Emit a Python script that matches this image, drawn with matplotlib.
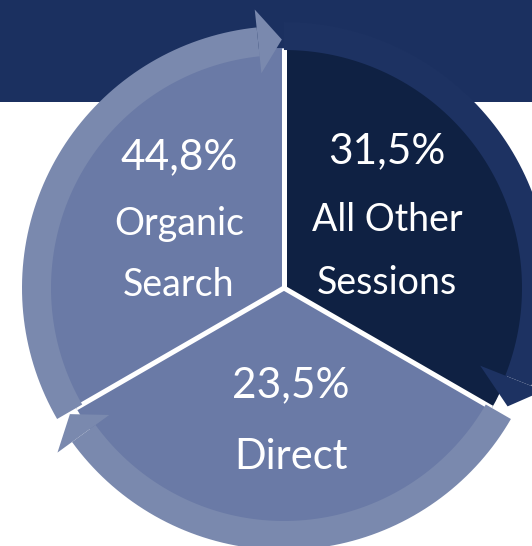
import numpy as np
import matplotlib
matplotlib.use("Agg")
import matplotlib.pyplot as plt
from matplotlib.patches import Polygon, Rectangle

# data
channels = ["Organic\nSearch", "All Other\nSessions", "Direct"]
shares = [44.8, 31.5, 23.5]
segment_weights = [1, 1, 1]   # the cycle graphic uses equal segments

W, H = 532, 546
cx, cy = 284, H - 288
R = 240

header_col = "#1b3060"
slice_cols = ["#6a7aa6", "#0f2143", "#6a7aa6"]
ring_cols = ["#7a89ae", "#1d3262", "#7a89ae"]


def arc_arrow(ax, a_start, a_tip, r_in, r_out, h_in, h_out, head_deg, color):
    """clockwise band from a_start to a_tip (degrees), arrow head at the end"""
    a_base = a_tip + head_deg
    t = np.radians(np.linspace(a_start, a_base, 80))
    outer = np.c_[cx + r_out*np.cos(t), cy + r_out*np.sin(t)]
    inner = np.c_[cx + r_in*np.cos(t), cy + r_in*np.sin(t)][::-1]
    band = Polygon(np.vstack([outer, inner]), closed=True, fc=color, ec="none", zorder=3)
    ax.add_patch(band)
    tb, tt = np.radians(a_base), np.radians(a_tip)
    rm = (r_in + r_out) / 2 + 1
    head = [(cx + h_out*np.cos(tb), cy + h_out*np.sin(tb)),
            (cx + rm*np.cos(tt), cy + rm*np.sin(tt)),
            (cx + h_in*np.cos(tb), cy + h_in*np.sin(tb))]
    return Polygon(head, closed=True, fc=color, ec="none", zorder=4)


fig = plt.figure(figsize=(W/100, H/100), dpi=100)
ax = fig.add_axes([0, 0, 1, 1])

ax.add_patch(Rectangle((0, H - 102), W, 102, fc=header_col, ec="none", zorder=0))

wedges, _ = ax.pie(segment_weights, colors=slice_cols, startangle=210, counterclock=False,
                   center=(cx, cy), radius=R, wedgeprops=dict(linewidth=0))
for w in wedges:
    w.set_zorder(1)

# white separators between segments
bounds = 210 - 360*np.cumsum([0] + segment_weights[:-1]) / sum(segment_weights)
for a in bounds:
    t = np.radians(a)
    ax.plot([cx, cx + R*np.cos(t)], [cy, cy + R*np.sin(t)], color="white", lw=3.6,
            solid_capstyle="butt", zorder=2)

# circular arrows around each segment
heads = []
for i, a0 in enumerate(bounds):
    span = 360*segment_weights[i]/sum(segment_weights)
    tip = a0 - span + 0.5
    if i == 1:
        heads.append(arc_arrow(ax, a0, tip + 1.6, 238, 266, 211, 279, 6.3, ring_cols[i]))
    else:
        heads.append(arc_arrow(ax, a0, tip, 233, 262, 216, 280, 5.5, ring_cols[i]))
for h in heads:
    ax.add_patch(h)

# labels
txt_pos = [(179, 157, 224, 285), (387, 151, 220, 283), (291, 385, None, 457)]
name_sizes = [27, 27, 30]
for (x, yp, y1, y2), name, s, fs in zip(txt_pos, channels, shares, name_sizes):
    ax.text(x, H - yp, f"{s:.1f}%".replace(".", ","), color="white", fontsize=30.5,
            family="Lato", ha="center", va="center", zorder=5)
    lines = name.split("\n")
    ys = [y1, y2] if len(lines) == 2 else [y2]
    for ln, yy in zip(lines, ys):
        ax.text(x, H - yy, ln, color="white", fontsize=fs, family="Lato",
                ha="center", va="center", zorder=5)

ax.set_xlim(0, W)
ax.set_ylim(0, H)
ax.set_aspect("auto")
ax.axis("off")

fig.savefig("out.png", dpi=100)
